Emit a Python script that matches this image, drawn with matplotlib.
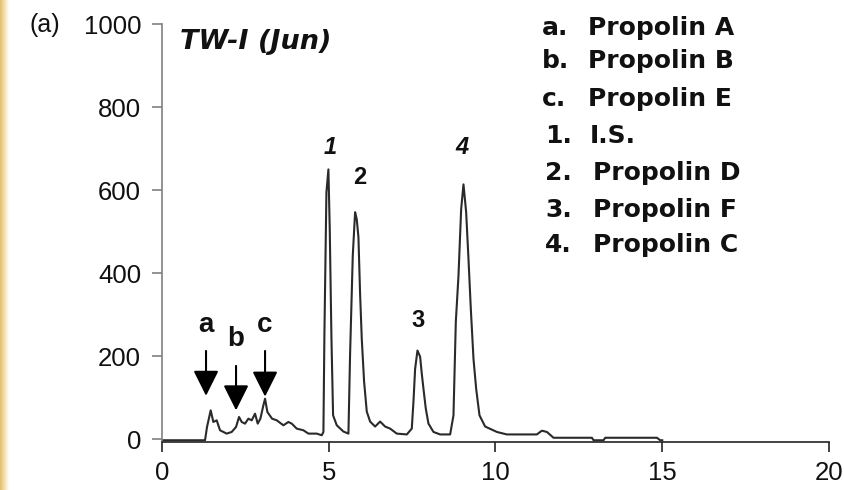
import numpy as np
import matplotlib
matplotlib.use("Agg")
import matplotlib.pyplot as plt
from matplotlib.colors import LinearSegmentedColormap

# chromatogram trace (time in min, detector signal)
time_min = [0.0, 1.29, 1.35, 1.46, 1.54, 1.64, 1.74, 1.94, 2.09, 2.22, 2.31, 2.39,
            2.49, 2.59, 2.69, 2.79, 2.87, 2.95, 3.04, 3.09, 3.16, 3.30, 3.44, 3.64,
            3.79, 3.89, 4.04, 4.24, 4.39, 4.64, 4.79, 4.84, 4.87, 4.93, 4.99, 5.03,
            5.08, 5.13, 5.24, 5.44, 5.59, 5.64, 5.72, 5.79, 5.84, 5.89, 5.94, 5.99,
            6.06, 6.14, 6.24, 6.39, 6.54, 6.69, 6.84, 7.04, 7.34, 7.49, 7.54, 7.59,
            7.66, 7.74, 7.79, 7.84, 7.91, 7.99, 8.14, 8.34, 8.64, 8.74, 8.81, 8.89,
            8.97, 9.04, 9.12, 9.19, 9.26, 9.34, 9.42, 9.52, 9.69, 10.04, 10.34, 11.24,
            11.39, 11.54, 11.74, 12.89, 12.94, 13.24, 13.29, 14.84, 14.94, 15.0]
signal = [-2, -2, 30, 70, 42, 46, 22, 14, 18, 30, 54, 42,
          38, 50, 46, 62, 38, 50, 82, 98, 66, 50, 46, 34,
          42, 38, 26, 22, 14, 14, 10, 18, 254, 595, 650, 506,
          247, 58, 34, 19, 14, 206, 442, 547, 530, 487, 350, 242,
          139, 67, 43, 31, 43, 31, 26, 14, 12, 26, 91, 170,
          214, 199, 158, 122, 74, 38, 18, 12, 12, 58, 283, 394,
          554, 614, 547, 434, 314, 194, 122, 58, 31, 18, 12, 12,
          21, 18, 4, 4, -2, -2, 4, 4, -2, -2]

# arrow-marked minor peaks
minor_labels = ["a", "b", "c"]
minor_times = [1.32, 2.22, 3.09]

# numbered peaks
peak_labels = ["1", "2", "3", "4"]
peak_times = [5.04, 5.94, 7.68, 9.00]

legend_keys = ["a.", "b.", "c.", "1.", "2.", "3.", "4."]
legend_names = ["Propolin A", "Propolin B", "Propolin E", "I.S.",
                "Propolin D", "Propolin F", "Propolin C"]

x_ticks = [0, 5, 10, 15, 20]
y_ticks = [0, 200, 400, 600, 800, 1000]

W, H = 845, 490
fig = plt.figure(figsize=(W / 100, H / 100), dpi=100)
ax = fig.add_axes([162 / W, 1 - 441.5 / H, (829 - 162) / W, (441.5 - 24) / H])

ax.plot(time_min, signal, color="#2a2a2a", linewidth=1.5)
ax.set_xlim(0, 20)
ax.set_ylim(-5, 1000)
ax.set_xticks(x_ticks)
ax.set_yticks(y_ticks)

for s in ["top", "right"]:
    ax.spines[s].set_visible(False)
ax.spines["left"].set_color("#808080")
ax.spines["bottom"].set_color("#222222")
ax.spines["left"].set_linewidth(1.2)
ax.spines["bottom"].set_linewidth(1.2)
ax.tick_params(axis="y", direction="out", length=7, width=1.2, color="#808080", pad=8)
ax.tick_params(axis="x", direction="out", length=7, width=1.2, color="#222222", pad=7)
for lab in ax.get_xticklabels() + ax.get_yticklabels():
    lab.set_fontfamily("Liberation Sans")
    lab.set_fontsize(18.5)
    lab.set_color("#111111")

# sample name
ax.text(0.55, 940, "TW-I (Jun)", family="DejaVu Sans", style="italic",
        fontweight="bold", fontsize=19.5, ha="left", va="baseline", color="#111111")

# minor peaks: letters with arrows
label_heights = [259, 224, 259]
arrow_tops = [213, 177, 213]
arrow_tips = [105, 70, 103]
for lab, t, ly, at, tip in zip(minor_labels, minor_times, label_heights, arrow_tops, arrow_tips):
    ax.text(t, ly, lab, family="Liberation Sans", fontweight="bold", fontsize=20,
            ha="center", va="baseline", color="#111111")
    ax.annotate("", xy=(t, tip), xytext=(t, at),
                arrowprops=dict(arrowstyle="-|>,head_length=1.3,head_width=0.65",
                                mutation_scale=12, color="black", lw=1.5,
                                shrinkA=0, shrinkB=0))

# numbered peaks
peak_heights = [686, 614, 271, 686]
peak_styles = ["italic", "normal", "normal", "italic"]
for lab, t, py, st in zip(peak_labels, peak_times, peak_heights, peak_styles):
    ax.text(t, py, lab, family="Liberation Sans", fontweight="bold", style=st,
            fontsize=17, ha="center", va="baseline", color="#111111")

# panel label
fig.text(30 / W, 1 - 32 / H, "(a)", family="Liberation Sans", fontsize=18,
         ha="left", va="baseline", color="#111111")

# legend block
row_base = [35, 68, 106, 143, 180, 217, 252]
key_x = [542, 542, 542, 545, 545, 545, 545]
name_x = [588, 588, 588, 590, 593, 593, 593]
for k, n, yb, kx, nx in zip(legend_keys, legend_names, row_base, key_x, name_x):
    fig.text(kx / W, 1 - yb / H, k, family="DejaVu Sans", fontweight="bold",
             fontsize=18, ha="left", va="baseline", color="#111111")
    fig.text(nx / W, 1 - yb / H, n, family="DejaVu Sans", fontweight="bold",
             fontsize=18, ha="left", va="baseline", color="#111111")

# tan strip on the left edge
strip = fig.add_axes([0, 0, 9 / W, 1])
grad = np.linspace(0, 1, 50).reshape(1, -1)
cm = LinearSegmentedColormap.from_list("tan", ["#e2bf6c", "#f3dfb0", "#ffffff"])
strip.imshow(grad, aspect="auto", cmap=cm, extent=[0, 1, 0, 1])
strip.axis("off")

fig.savefig("out.png", dpi=100)
